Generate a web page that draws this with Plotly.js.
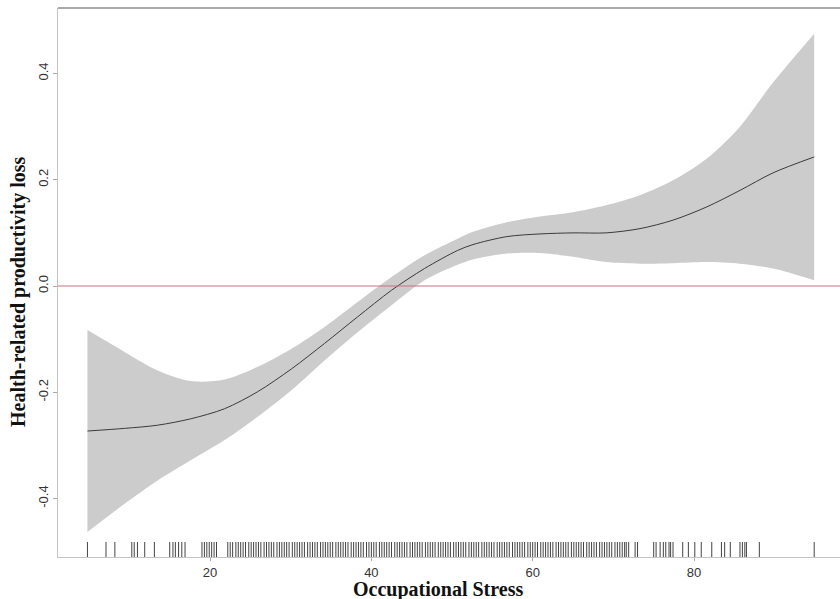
<!DOCTYPE html>
<html>
<head>
<meta charset="utf-8">
<script src="https://cdn.plot.ly/plotly-3.0.1.min.js"></script>
<style>html,body{margin:0;padding:0;background:#fff;}#chart{width:840px;height:599px;}</style>
</head>
<body>
<div id="chart"></div>
<script>
// Smooth term estimate
const stress = [4.8, 9.4, 13.5, 17.6, 21.8, 25.9, 30.1, 34.2, 38.3, 42.5, 46.6, 50.7, 52.6, 56.8, 60.9, 65.0, 69.1, 73.3, 77.4, 81.6, 85.7, 89.8, 94.9];
const fit    = [-0.273, -0.268, -0.262, -0.250, -0.231, -0.199, -0.156, -0.108, -0.058, -0.008, 0.033, 0.067, 0.078, 0.093, 0.098, 0.100, 0.100, 0.108, 0.124, 0.149, 0.180, 0.213, 0.243];
const upper  = [-0.083, -0.124, -0.159, -0.179, -0.176, -0.152, -0.118, -0.077, -0.030, 0.017, 0.058, 0.089, 0.102, 0.120, 0.131, 0.139, 0.152, 0.171, 0.199, 0.240, 0.300, 0.383, 0.475];
const lower  = [-0.463, -0.410, -0.366, -0.328, -0.290, -0.246, -0.196, -0.140, -0.087, -0.036, 0.011, 0.040, 0.050, 0.061, 0.062, 0.055, 0.045, 0.042, 0.043, 0.045, 0.042, 0.033, 0.011];

// Observed occupational stress values (rug)
const rugValues = [4.8, 7.1, 8.2, 10.3, 10.6, 11.0, 11.9, 13.1, 15.0, 15.4, 15.7, 16.1, 16.5, 16.9, 19.0, 19.3, 19.6, 19.9, 20.2, 20.5, 20.8,
  22.2, 22.5, 22.8, 23.2, 23.5, 23.8, 24.1, 24.4, 24.8, 25.1, 25.4, 25.7, 26.0, 26.3, 26.7, 27.0, 27.3, 27.6, 27.9, 28.3, 28.6, 28.9, 29.2, 29.5, 29.8,
  30.2, 30.5, 30.8, 31.1, 31.4, 31.7, 32.1, 32.4, 32.7, 33.0, 33.3, 33.7, 34.0, 34.3, 34.6, 34.9, 35.2, 35.6, 35.9, 36.2, 36.5, 36.8, 37.1, 37.5, 37.8,
  38.1, 38.4, 38.7, 39.0, 39.4, 39.7, 40.0, 40.3, 40.6, 41.0, 41.3, 41.6, 41.9, 42.2, 42.5, 42.9, 43.2, 43.5, 43.8, 44.1, 44.4, 44.8, 45.1, 45.4, 45.7,
  46.0, 46.3, 46.7, 47.0, 47.3, 47.6, 47.9, 48.3, 48.6, 48.9, 49.2, 49.5, 49.8, 50.2, 50.5, 50.8, 51.1, 51.4, 51.7, 52.1, 52.4, 52.7, 53.0, 53.3, 53.7,
  54.0, 54.3, 54.6, 54.9, 55.2, 55.6, 55.9, 56.2, 56.5, 56.8, 57.1, 57.5, 57.8, 58.1, 58.4, 58.7, 59.0, 59.4, 59.7, 60.0, 60.3, 60.6, 61.0, 61.3, 61.6,
  61.9, 62.2, 62.5, 62.9, 63.2, 63.5, 63.8, 64.1, 64.4, 64.8, 65.1, 65.4, 65.7, 66.0, 66.3, 66.7, 67.0, 67.3, 67.6, 67.9, 68.3, 68.6, 68.9, 69.2, 69.5,
  69.8, 70.2, 70.5, 70.8, 71.1, 71.4, 71.6, 71.9,
  72.7, 73.0, 75.0, 75.3, 75.8, 76.2, 76.5, 76.9, 77.1, 77.4, 78.6, 79.3, 80.1, 80.9, 82.2, 83.4, 83.8, 84.5, 85.7, 86.0, 86.3, 86.5, 88.1, 94.9];

const xTickVals = [20, 40, 60, 80];
const xTickText = ['20', '40', '60', '80'];
const yTickVals = [-0.4, -0.2, 0.0, 0.2, 0.4];
const yTickText = ['-0.4', '-0.2', '0.0', '0.2', '0.4'];
const refValue = 0;

const xTitle = 'Occupational Stress';
const yTitle = 'Health-related productivity loss';

const traces = [
  {x: stress, y: upper, type: 'scatter', mode: 'lines', line: {width: 0, shape: 'spline', smoothing: 0.85}, hoverinfo: 'skip', showlegend: false},
  {x: stress, y: lower, type: 'scatter', mode: 'lines', fill: 'tonexty', fillcolor: '#cccccc', line: {width: 0, shape: 'spline', smoothing: 0.85}, hoverinfo: 'skip', showlegend: false},
  {x: stress, y: fit, type: 'scatter', mode: 'lines', line: {color: '#3a3a3a', width: 1, shape: 'spline', smoothing: 0.85}, showlegend: false}
];

const shapes = [];
rugValues.forEach(v => shapes.push({type: 'line', xref: 'x', yref: 'paper', x0: v, x1: v, y0: 0, y1: 0.0273, line: {color: '#444', width: 1}}));
shapes.push({type: 'line', xref: 'paper', yref: 'y', x0: 0, x1: 1, y0: refValue, y1: refValue, line: {color: '#c8707e', width: 1}});
shapes.push({type: 'line', xref: 'paper', yref: 'paper', x0: 0, x1: 1, y0: 1, y1: 1, line: {color: '#555', width: 1}});

const layout = {
  width: 840, height: 599,
  margin: {l: 58, r: 0, t: 8, b: 42, pad: 0},
  paper_bgcolor: '#fff', plot_bgcolor: '#fff',
  showlegend: false,
  xaxis: {
    range: [1.15, 98.1], showgrid: false, zeroline: false,
    showline: true, linecolor: '#c4c4c4', linewidth: 1,
    ticks: 'outside', ticklen: 3, tickcolor: '#aaa', tickwidth: 1,
    tickvals: xTickVals, ticktext: xTickText,
    tickfont: {family: 'Liberation Sans, Arial, sans-serif', size: 13, color: '#333'}
  },
  yaxis: {
    range: [-0.5101, 0.5233], showgrid: false, zeroline: false,
    showline: true, linecolor: '#c4c4c4', linewidth: 1,
    ticks: 'outside', ticklen: 4, tickcolor: '#aaa', tickwidth: 1,
    tickvals: yTickVals, ticktext: yTickText, tickangle: -90,
    tickfont: {family: 'Liberation Sans, Arial, sans-serif', size: 13, color: '#333'}
  },
  shapes: shapes,
  annotations: [
    {text: xTitle, xref: 'paper', yref: 'paper', x: 0.486, y: -0.0601, xanchor: 'center', yanchor: 'middle', showarrow: false,
     font: {family: 'Liberation Serif, Times New Roman, serif', size: 20, color: '#111', weight: 'bold'}},
    {text: yTitle, xref: 'paper', yref: 'paper', x: -0.0512, y: 0.4845, xanchor: 'center', yanchor: 'middle', textangle: -90, showarrow: false,
     font: {family: 'Liberation Serif, Times New Roman, serif', size: 20, color: '#111', weight: 'bold'}}
  ]
};

Plotly.newPlot('chart', traces, layout, {displayModeBar: false, staticPlot: true});
</script>
</body>
</html>
